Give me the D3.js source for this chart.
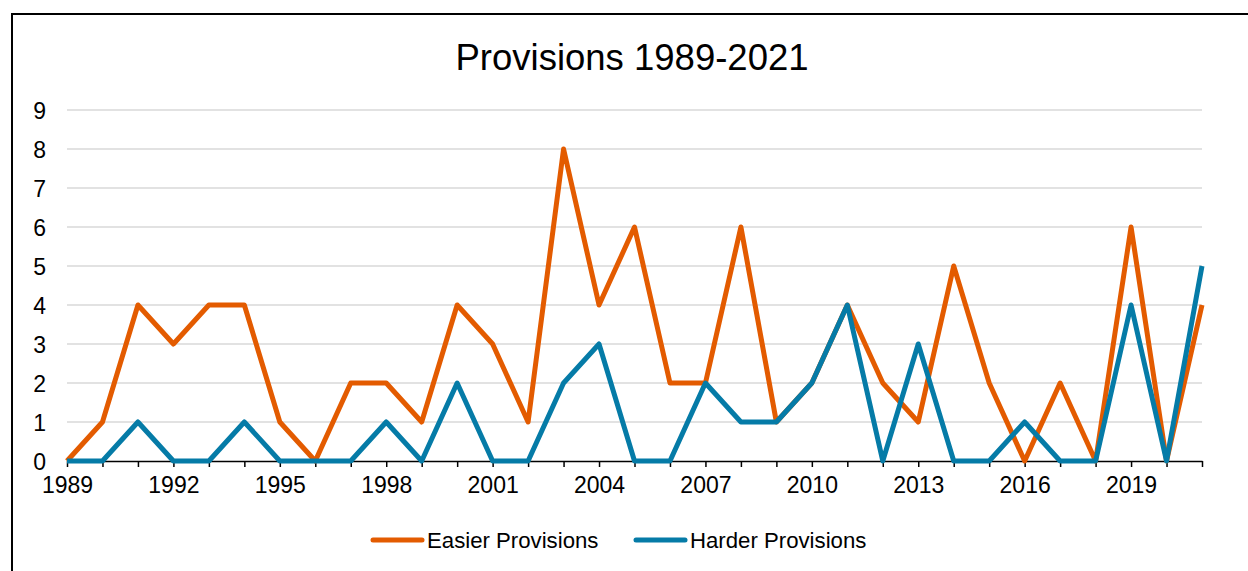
<!DOCTYPE html>
<html>
<head>
<meta charset="utf-8">
<script src="https://cdn.jsdelivr.net/npm/d3@7"></script>
<style>
  html, body { margin: 0; padding: 0; background: #fff; }
  svg { display: block; font-family: "Liberation Sans", Arial, sans-serif; }
</style>
</head>
<body>
<svg id="chart" width="1248" height="571"></svg>
<script>
const years = [1989,1990,1991,1992,1993,1994,1995,1996,1997,1998,1999,2000,2001,2002,2003,2004,2005,2006,2007,2008,2009,2010,2011,2012,2013,2014,2015,2016,2017,2018,2019,2020,2021];
const easier = [0,1,4,3,4,4,1,0,2,2,1,4,3,1,8,4,6,2,2,6,1,2,4,2,1,5,2,0,2,0,6,0,4];
const harder = [0,0,1,0,0,1,0,0,0,1,0,2,0,0,2,3,0,0,2,1,1,2,4,0,3,0,0,1,0,0,4,0,5];
const yTicks = [0,1,2,3,4,5,6,7,8,9];
const xLabelYears = [1989,1992,1995,1998,2001,2004,2007,2010,2013,2016,2019];
const seriesNames = ["Easier Provisions", "Harder Provisions"];
const title = "Provisions 1989-2021";

const colors = ["#E35B00", "#057BA7"];

const svg = d3.select("#chart");

// chart frame border (left and top visible)
svg.append("path")
  .attr("d", "M12,571 L12,14 L1248,14")
  .attr("fill", "none")
  .attr("stroke", "#000")
  .attr("stroke-width", 2);

const x = d3.scaleLinear().domain([1989, 2021]).range([67, 1202]);
const y = d3.scaleLinear().domain([0, 9]).range([461, 110]);

// title
svg.append("text")
  .attr("x", 632).attr("y", 70)
  .attr("text-anchor", "middle")
  .attr("font-size", 36.5)
  .attr("fill", "#000")
  .text(title);

// gridlines
svg.append("g")
  .selectAll("line")
  .data(yTicks.filter(d => d > 0))
  .join("line")
  .attr("x1", x(1989)).attr("x2", x(2021))
  .attr("y1", d => y(d)).attr("y2", d => y(d))
  .attr("stroke", "#D9D9D9")
  .attr("stroke-width", 1.5);

// y axis labels
const yAxis = d3.axisLeft(y).tickValues(yTicks).tickSize(0).tickPadding(0).tickFormat(d3.format("d"));
const gy = svg.append("g").attr("transform", `translate(${x(1989) - 21},0)`).call(yAxis);
gy.select(".domain").remove();
gy.selectAll("text").attr("font-size", 23).attr("fill", "#000").attr("font-family", '"Liberation Sans", Arial, sans-serif').attr("dy", "0.35em");

// x axis: ticks every year, labels every 3 years
const xAxis = d3.axisBottom(x).tickValues(years).tickSize(6).tickSizeOuter(0)
  .tickFormat(d => xLabelYears.includes(d) ? String(d) : "");
const gx = svg.append("g").attr("transform", `translate(0,${y(0)})`).call(xAxis);
gx.select(".domain").attr("stroke", "#000").attr("stroke-width", 1.5);
gx.selectAll(".tick line").attr("stroke", "#000").attr("stroke-width", 1.5);
gx.selectAll("text").attr("font-size", 23).attr("fill", "#000").attr("font-family", '"Liberation Sans", Arial, sans-serif').attr("dy", "1.02em");

// lines
const line = d3.line().x((d, i) => x(years[i])).y(d => y(d));
const data = [easier, harder];
svg.append("g")
  .selectAll("path")
  .data(data)
  .join("path")
  .attr("d", d => line(d))
  .attr("fill", "none")
  .attr("stroke", (d, i) => colors[i])
  .attr("stroke-width", 5)
  .attr("stroke-linejoin", "round")
  .attr("stroke-linecap", "butt");

// legend
const legendX = [373, 636];
const lg = svg.append("g");
seriesNames.forEach((name, i) => {
  lg.append("line")
    .attr("x1", legendX[i]).attr("x2", legendX[i] + 49)
    .attr("y1", 540).attr("y2", 540)
    .attr("stroke", colors[i])
    .attr("stroke-width", 5)
    .attr("stroke-linecap", "round");
  lg.append("text")
    .attr("x", legendX[i] + 54).attr("y", 540)
    .attr("dy", "0.35em")
    .attr("font-size", 22.2)
    .attr("fill", "#000")
    .text(name);
});
</script>
</body>
</html>
